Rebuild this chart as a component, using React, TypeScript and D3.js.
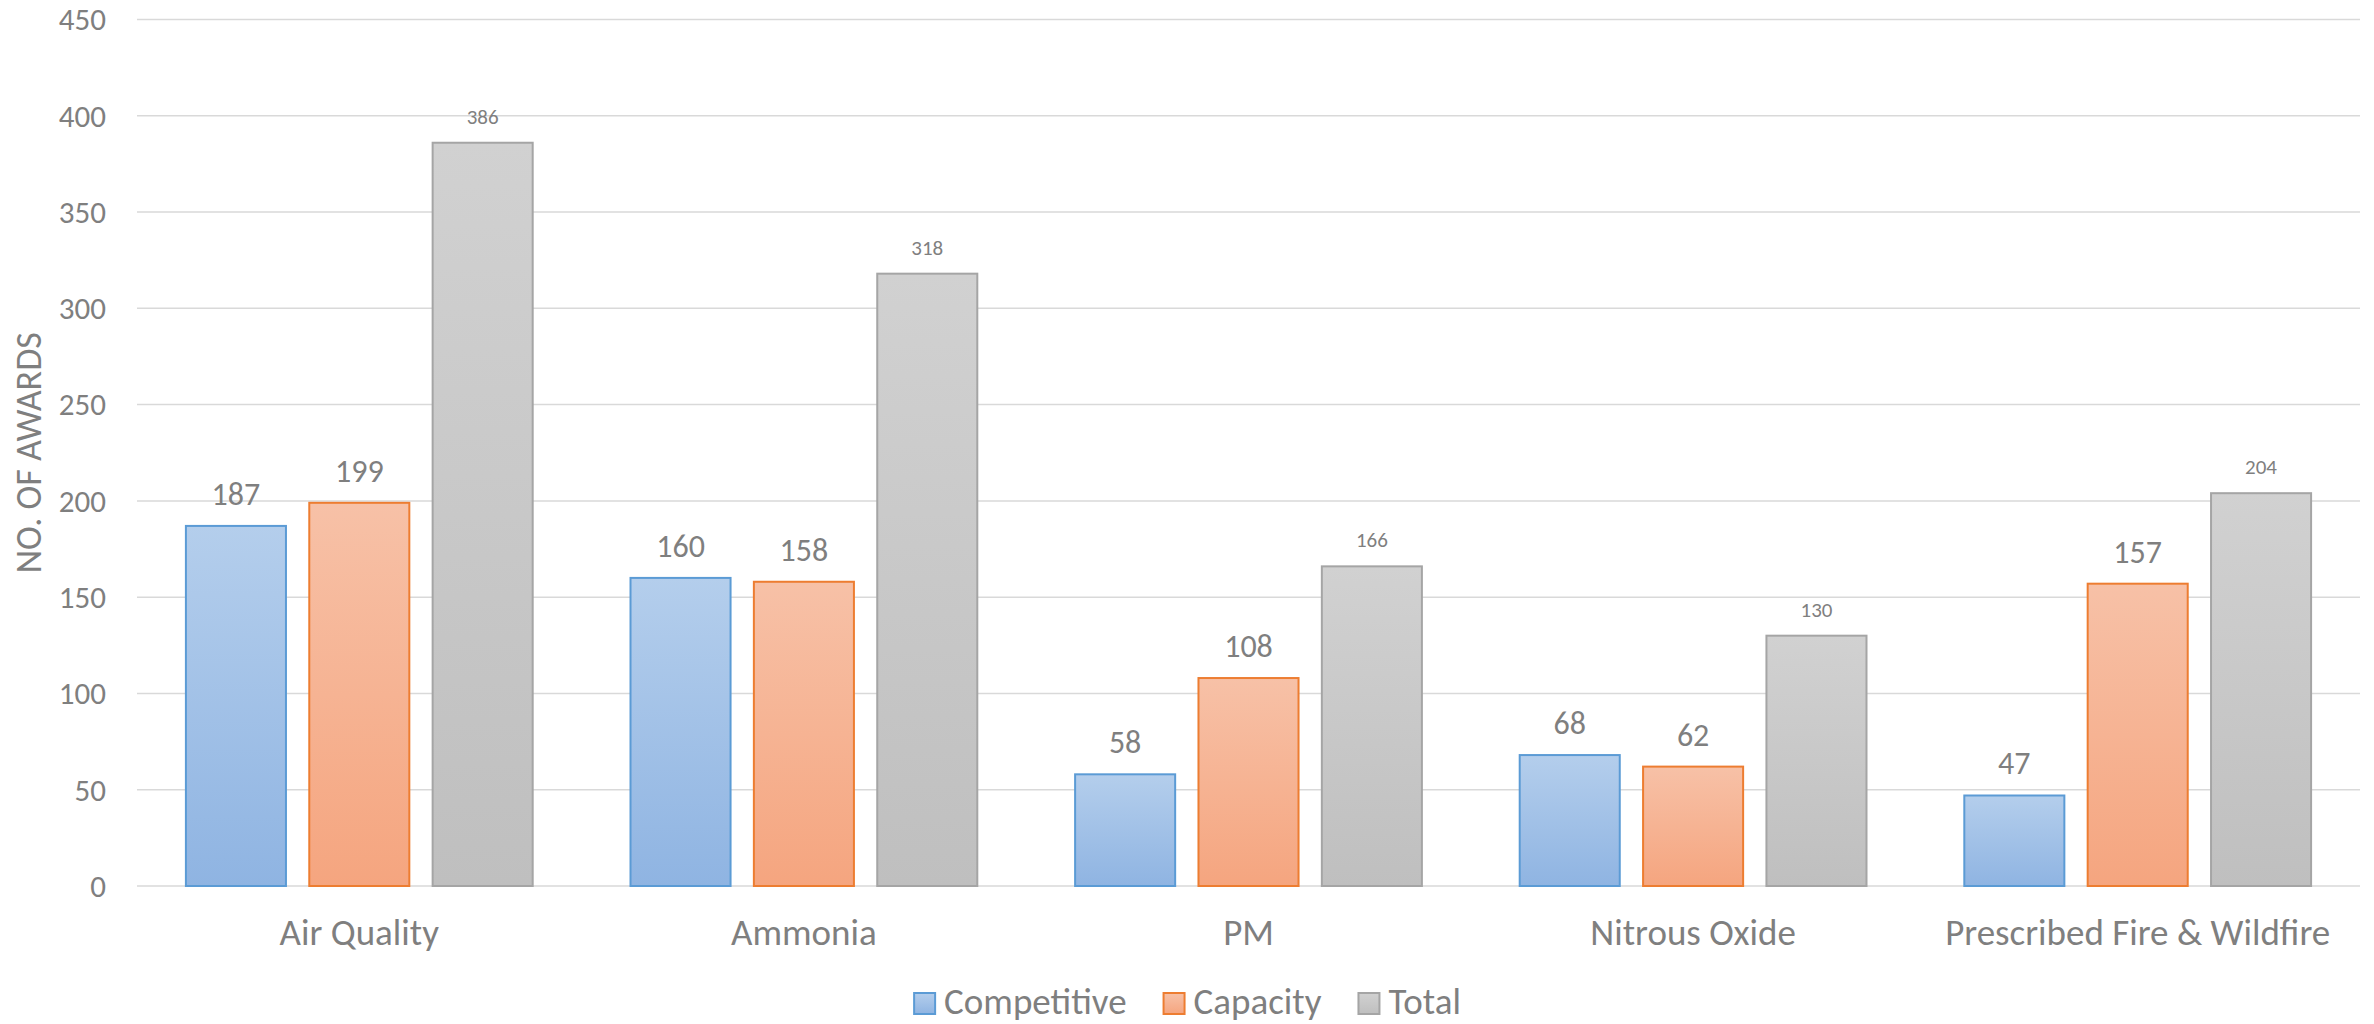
import React, { useEffect, useRef } from 'react';
import * as d3 from 'd3';

// Award counts by funding area
const categories = ['Air Quality', 'Ammonia', 'PM', 'Nitrous Oxide', 'Prescribed Fire & Wildfire'];
const seriesNames = ['Competitive', 'Capacity', 'Total'];
const competitive = [187, 160, 58, 68, 47];
const capacity = [199, 158, 108, 62, 157];
const total = [386, 318, 166, 130, 204];
const yTicks = [0, 50, 100, 150, 200, 250, 300, 350, 400, 450];
const yAxisTitle = 'NO. OF AWARDS';

const seriesValues = [competitive, capacity, total];

// Visual styling per series
const seriesStyles = [
  { id: 'grad-comp', top: '#b4ceec', bottom: '#8fb4e2', stroke: '#5b9bd5', labelSize: 32, labelGap: 21 },
  { id: 'grad-cap', top: '#f7c1a7', bottom: '#f5a57f', stroke: '#ed7d31', labelSize: 32, labelGap: 21 },
  { id: 'grad-tot', top: '#d1d1d1', bottom: '#bfbfbf', stroke: '#a5a5a5', labelSize: 21, labelGap: 19 },
];

const W = 2374;
const H = 1024;
const FONT = 'Carlito, Calibri, Lato, sans-serif';
const TEXT = '#7f7f7f';

export default function App() {
  const ref = useRef<SVGSVGElement | null>(null);

  useEffect(() => {
    const svg = d3.select(ref.current);
    svg.selectAll('*').remove();

    const left = 137;
    const right = 2360;
    const yScale = d3.scaleLinear().domain([0, 450]).range([886, 19.5]);

    const x0 = d3.scaleBand<string>().domain(categories).range([left, right]).paddingInner(0.22).paddingOuter(0.11);
    const x1 = d3.scaleBand<string>().domain(seriesNames).range([0, x0.bandwidth()]).paddingInner(0.189).paddingOuter(0);

    const defs = svg.append('defs');
    seriesStyles.forEach((s) => {
      const g = defs.append('linearGradient').attr('id', s.id).attr('x1', 0).attr('y1', 0).attr('x2', 0).attr('y2', 1);
      g.append('stop').attr('offset', '0%').attr('stop-color', s.top);
      g.append('stop').attr('offset', '100%').attr('stop-color', s.bottom);
    });

    svg.append('rect').attr('width', W).attr('height', H).attr('fill', '#ffffff');

    // Horizontal gridlines
    svg.append('g')
      .selectAll('line')
      .data(yTicks)
      .join('line')
      .attr('x1', left)
      .attr('x2', right)
      .attr('y1', (d) => yScale(d))
      .attr('y2', (d) => yScale(d))
      .attr('stroke', '#d9d9d9')
      .attr('stroke-width', 1.5);

    // Y tick labels
    svg.append('g')
      .selectAll('text')
      .data(yTicks)
      .join('text')
      .attr('x', 106)
      .attr('y', (d) => yScale(d))
      .attr('dy', '0.35em')
      .attr('text-anchor', 'end')
      .attr('font-family', FONT)
      .attr('font-size', 31)
      .attr('fill', TEXT)
      .text((d) => String(d));

    // Y axis title
    svg.append('text')
      .attr('transform', `translate(41, ${(yScale(0) + yScale(450)) / 2}) rotate(-90)`)
      .attr('text-anchor', 'middle')
      .attr('font-family', FONT)
      .attr('font-size', 36)
      .attr('fill', TEXT)
      .text(yAxisTitle);

    // Bars and value labels
    const groups = svg.append('g')
      .selectAll('g')
      .data(categories)
      .join('g')
      .attr('transform', (c) => `translate(${x0(c)},0)`);

    seriesNames.forEach((name, si) => {
      const s = seriesStyles[si];
      groups.append('rect')
        .attr('x', x1(name)!)
        .attr('y', (c, i) => yScale(seriesValues[si][i]))
        .attr('width', x1.bandwidth())
        .attr('height', (c, i) => yScale(0) - yScale(seriesValues[si][i]))
        .attr('fill', `url(#${s.id})`)
        .attr('stroke', s.stroke)
        .attr('stroke-width', 2);

      groups.append('text')
        .attr('x', x1(name)! + x1.bandwidth() / 2)
        .attr('y', (c, i) => yScale(seriesValues[si][i]) - s.labelGap)
        .attr('text-anchor', 'middle')
        .attr('font-family', FONT)
        .attr('font-size', s.labelSize)
        .attr('fill', TEXT)
        .text((c, i) => String(seriesValues[si][i]));
    });

    // Category labels
    svg.append('g')
      .selectAll('text')
      .data(categories)
      .join('text')
      .attr('x', (c) => x0(c)! + x0.bandwidth() / 2)
      .attr('y', 945)
      .attr('text-anchor', 'middle')
      .attr('font-family', FONT)
      .attr('font-size', 37)
      .attr('fill', TEXT)
      .text((c) => c);

    // Legend, centred horizontally
    const box = 21;
    const boxGap = 9;
    const itemGap = 36;
    const legend = svg.append('g');
    const items = seriesNames.map((name, i) => {
      const g = legend.append('g');
      g.append('rect')
        .attr('x', 1)
        .attr('y', -box)
        .attr('width', box)
        .attr('height', box)
        .attr('fill', `url(#${seriesStyles[i].id})`)
        .attr('stroke', seriesStyles[i].stroke)
        .attr('stroke-width', 2);
      const t = g.append('text')
        .attr('x', box + boxGap + 1)
        .attr('y', 0)
        .attr('font-family', FONT)
        .attr('font-size', 37)
        .attr('fill', TEXT)
        .text(name);
      const tw = (t.node() as SVGTextElement).getComputedTextLength();
      return { g, w: box + boxGap + 1 + tw };
    });
    const totalW = d3.sum(items, (d) => d.w) + itemGap * (items.length - 1);
    let cx = W / 2 - totalW / 2;
    items.forEach((it) => {
      it.g.attr('transform', `translate(${cx},1014)`);
      cx += it.w + itemGap;
    });
  }, []);

  return (
    <svg
      ref={ref}
      width={W}
      height={H}
      viewBox={`0 0 ${W} ${H}`}
      style={{ position: 'absolute', left: 0, top: 0, display: 'block' }}
    />
  );
}
